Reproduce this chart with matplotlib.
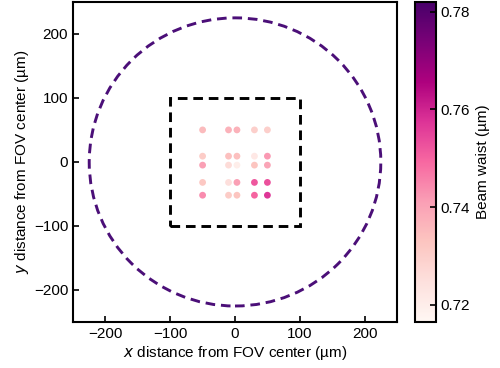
import numpy as np
import matplotlib
matplotlib.use("Agg")
import matplotlib.pyplot as plt
from matplotlib.patches import Circle, Rectangle

plt.rcParams['font.family'] = ['Liberation Sans', 'DejaVu Sans']
plt.rcParams['font.size'] = 11

# measurement grid (um)
x_pos = [-50, -10, 3, 30, 50]
y_pos = [50, 9, -5, -32, -52]

# beam waist per grid point (rows follow y_pos, columns follow x_pos)
waist = [
    [0.735, 0.737, 0.737, 0.730, 0.730],
    [0.731, 0.734, 0.734, 0.722, 0.742],
    [0.741, 0.726, 0.720, 0.733, 0.740],
    [0.732, 0.725, 0.741, 0.752, 0.753],
    [0.744, 0.731, 0.733, 0.750, 0.757],
]

fov_radius = 225
square_half = 100

xx, yy = np.meshgrid(x_pos, y_pos)
w = np.array(waist)

fig = plt.figure(figsize=(5, 3.68), dpi=100)
ax = fig.add_axes([0.146, 0.125, 0.648, 0.870])
cax = fig.add_axes([0.83, 0.125, 0.042, 0.870])

sc = ax.scatter(xx.ravel(), yy.ravel(), c=w.ravel(), cmap='RdPu',
                vmin=0.7165, vmax=0.782, s=24, linewidths=0, zorder=3)

ax.add_patch(Circle((0, 0), fov_radius, fill=False, ls=(0, (3.3, 2)),
                    lw=2.1, ec='#4b0f78'))
ax.add_patch(Rectangle((-square_half, -square_half), 2 * square_half, 2 * square_half,
                       fill=False, ls=(0, (3.3, 2)), lw=2.1, ec='black'))

ax.set_xlim(-250, 250)
ax.set_ylim(-250, 250)
ax.set_xticks([-200, -100, 0, 100, 200])
ax.set_yticks([-200, -100, 0, 100, 200])
ax.tick_params(direction='in', length=4, width=1.2)
for s in ax.spines.values():
    s.set_linewidth(1.5)
ax.set_xlabel(r'$x$ distance from FOV center (µm)', labelpad=2)
ax.set_ylabel(r'$y$ distance from FOV center (µm)', labelpad=2)

cb = fig.colorbar(sc, cax=cax)
cb.set_ticks([0.72, 0.74, 0.76, 0.78])
cb.ax.tick_params(direction='in', length=4, width=1.2)
cb.outline.set_linewidth(1.5)
cb.set_label('Beam waist (µm)')

fig.savefig('out.png', dpi=100)
